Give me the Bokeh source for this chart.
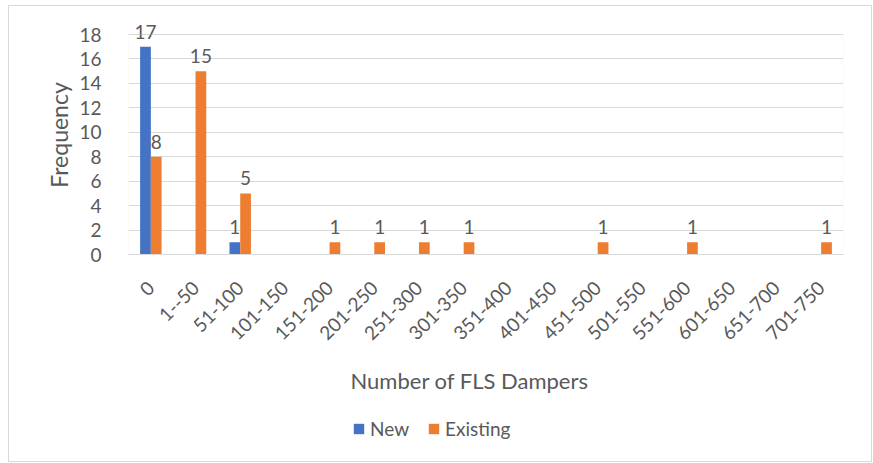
from bokeh.plotting import figure
from bokeh.models import ColumnDataSource, Range1d, Legend, LegendItem, BoxAnnotation, Label
from bokeh.layouts import column
from bokeh.transform import dodge
from bokeh.embed import file_html
from bokeh.resources import INLINE
from bokeh.core.properties import value
import math

categories = ["0", "1--50", "51-100", "101-150", "151-200", "201-250", "251-300", "301-350",
              "351-400", "401-450", "451-500", "501-550", "551-600", "601-650", "651-700", "701-750"]
new_vals = [17, 0, 1, 0, 0, 0, 0, 0, 0, 0, 0, 0, 0, 0, 0, 0]
existing_vals = [8, 15, 5, 0, 1, 1, 1, 1, 0, 0, 1, 0, 1, 0, 0, 1]
y_ticks = [0, 2, 4, 6, 8, 10, 12, 14, 16, 18]
y_max = 18
series_names = ["New", "Existing"]
x_title = "Number of FLS Dampers"
y_title = "Frequency"

BLUE = "#4472C4"
ORANGE = "#ED7D31"
TXT = "#595959"
GRID = "#d9d9d9"
FONT = "Lato"

src = ColumnDataSource(dict(
    cat=categories,
    new=new_vals,
    existing=existing_vals,
    new_lbl=[str(v) if v else "" for v in new_vals],
    ex_lbl=[str(v) if v else "" for v in existing_vals],
))

p = figure(x_range=categories, y_range=Range1d(0, 19.555), width=862, height=349,
           output_backend="svg", toolbar_location=None,
           min_border_left=119, min_border_top=9, min_border_right=28, min_border_bottom=101)
p.outline_line_color = None

# plot-area box from 0 to 18
p.add_layout(BoxAnnotation(bottom=0, top=y_max, fill_alpha=0, line_color=GRID, line_width=1))

bw = 0.24
p.vbar(x=dodge("cat", -bw / 2, range=p.x_range), top="new", width=bw, source=src,
       fill_color=BLUE, line_color=None)
p.vbar(x=dodge("cat", bw / 2, range=p.x_range), top="existing", width=bw, source=src,
       fill_color=ORANGE, line_color=None)

for col, lbl, off in (("new", "new_lbl", -bw / 2), ("existing", "ex_lbl", bw / 2)):
    p.text(x=dodge("cat", off, range=p.x_range), y=col, text=lbl, source=src,
           text_align="center", text_baseline="alphabetic", y_offset=-15,
           text_font=value(FONT), text_font_size="19px", text_color=TXT)

p.xgrid.grid_line_color = None
p.ygrid.grid_line_color = GRID
p.yaxis.ticker = y_ticks
p.yaxis.axis_line_color = None
p.yaxis.major_tick_line_color = None
p.yaxis.minor_tick_line_color = None
p.yaxis.major_label_text_font = FONT
p.yaxis.major_label_text_font_size = "19px"
p.yaxis.major_label_text_color = TXT
p.yaxis.major_label_standoff = 21
p.yaxis.axis_label = y_title
p.yaxis.axis_label_text_font = FONT
p.yaxis.axis_label_text_font_size = "23px"
p.yaxis.axis_label_text_font_style = "normal"
p.yaxis.axis_label_text_color = TXT
p.yaxis.axis_label_standoff = 3

p.xaxis.axis_line_color = GRID
p.xaxis.major_tick_line_color = None
p.xaxis.minor_tick_line_color = None
p.xaxis.major_label_orientation = math.pi / 4
p.xaxis.major_label_text_font = FONT
p.xaxis.major_label_text_font_size = "19px"
p.xaxis.major_label_text_color = TXT
p.xaxis.major_label_standoff = 24

# strip below: x-axis title and legend
q = figure(width=862, height=106, x_range=Range1d(0, 1), y_range=Range1d(0, 1),
           output_backend="svg", toolbar_location=None, x_axis_location=None,
           y_axis_location=None, min_border=0)
q.outline_line_color = None
q.grid.visible = False
dummy = ColumnDataSource(dict(x=[0], top=[0]))
ln = q.vbar(x="x", top="top", width=0.01, source=dummy, fill_color=BLUE, line_color=None)
le = q.vbar(x="x", top="top", width=0.01, source=dummy, fill_color=ORANGE, line_color=None)

q.add_layout(Label(x=222, y=81, x_units="screen", y_units="screen", text=x_title,
                   text_align="left", text_baseline="alphabetic",
                   text_font=FONT, text_font_size="22px", text_color=TXT))

legend = Legend(items=[LegendItem(label=series_names[0], renderers=[ln]),
                       LegendItem(label=series_names[1], renderers=[le])],
                orientation="horizontal", location=(224, 21),
                label_text_font=FONT, label_text_font_size="19px", label_text_color=TXT,
                glyph_width=13, glyph_height=13, label_standoff=5, spacing=18,
                padding=0, margin=0, border_line_color=None, background_fill_alpha=0)
q.add_layout(legend, "center")

layout = column(p, q, spacing=0,
                styles={"border": "1px solid #d9d9d9", "margin-left": "8px", "margin-top": "5px"})
open("out.html", "w").write(file_html(layout, INLINE))
